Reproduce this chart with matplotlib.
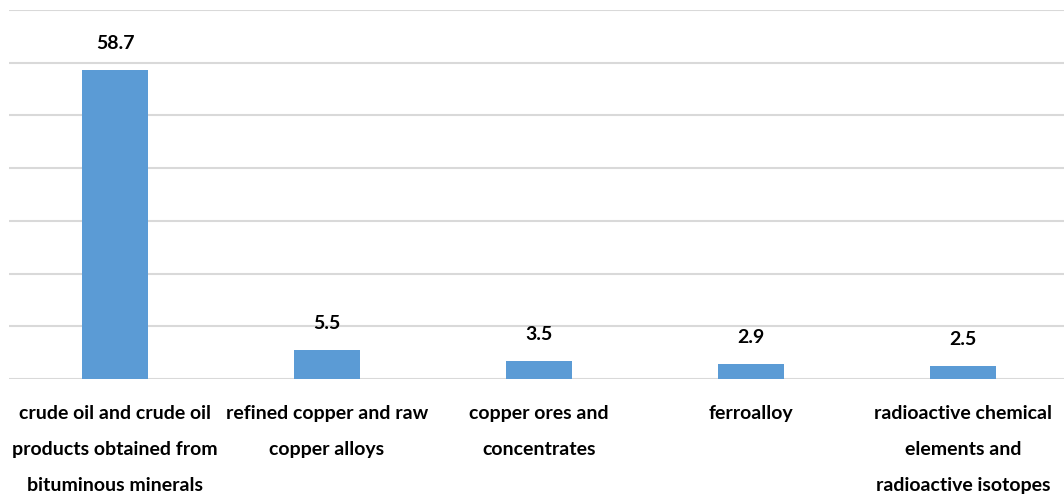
import matplotlib
matplotlib.use("Agg")
import matplotlib.pyplot as plt
import numpy as np

categories = [
    "crude oil and crude oil\nproducts obtained from\nbituminous minerals",
    "refined copper and raw\ncopper alloys",
    "copper ores and\nconcentrates",
    "ferroalloy",
    "radioactive chemical\nelements and\nradioactive isotopes",
]
values = [58.7, 5.5, 3.5, 2.9, 2.5]

plt.rcParams["font.family"] = ["Lato", "DejaVu Sans"]

W, H = 1064, 499
fig = plt.figure(figsize=(W / 100, H / 100), dpi=100)
ax = fig.add_axes([9 / W, (H - 379) / H, 1060 / W, 369 / H])

x = np.arange(len(values))
bars = ax.bar(x, values, width=0.31, color="#5B9BD5", zorder=3)
for xi, v in zip(x, values):
    ax.annotate(f"{v}", (xi, v), xytext=(0, 19), textcoords="offset points",
                ha="center", va="center", fontsize=14, fontweight="bold", color="#000000")

ax.set_xlim(-0.5, len(values) - 0.5)
ax.set_ylim(0, 70)
ax.set_yticks(np.arange(0, 71, 10))
ax.yaxis.grid(True, color="#D9D9D9", linewidth=1.5, zorder=0)
ax.tick_params(axis="y", length=0, labelleft=False)
ax.tick_params(axis="x", length=0, pad=0)
ax.set_xticks(x)
ax.set_xticklabels([])
for xi, c in zip(x, categories):
    ax.annotate(c, (xi, 0), xytext=(0, -19), textcoords="offset points",
                ha="center", va="top", fontsize=14, fontweight="bold",
                linespacing=2.34, color="#000000", annotation_clip=False)
for s in ax.spines.values():
    s.set_visible(False)

fig.savefig("out.png", dpi=100)
